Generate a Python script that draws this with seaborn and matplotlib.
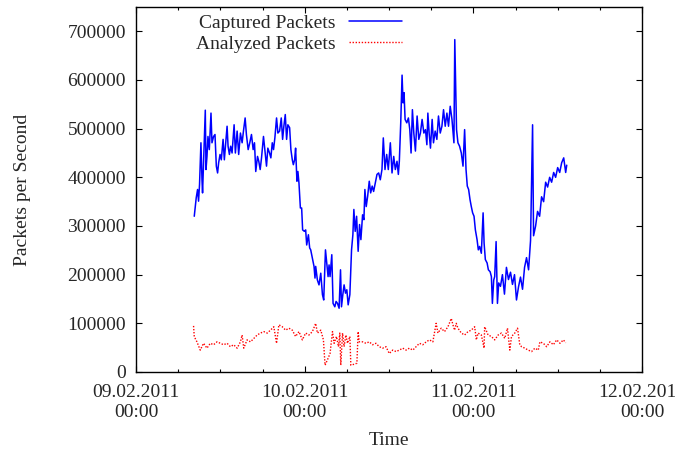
import numpy as np
import pandas as pd
import matplotlib
matplotlib.use("Agg")
import matplotlib.pyplot as plt
import matplotlib.dates as mdates
from matplotlib.ticker import MultipleLocator, FuncFormatter
import seaborn as sns

# ---------------- data (hours after 09.02.2011 00:00, packets per second) -------------
captured_hours = [
    8.29, 8.57, 8.76, 8.90, 9.04, 9.24, 9.39, 9.47, 9.61, 9.86, 9.96, 10.10, 10.24, 10.43,
    10.67, 10.81, 11.04, 11.24, 11.43, 11.61, 11.76, 11.96, 12.14, 12.39, 12.57, 12.76,
    12.96, 13.10, 13.29, 13.47, 13.67, 13.96, 14.14, 14.39, 14.61, 14.86, 15.10, 15.29,
    15.53, 15.71, 15.96, 16.19, 16.43, 16.67, 16.86, 17.04, 17.29, 17.47, 17.67, 17.86,
    18.14, 18.33, 18.57, 18.76, 19.00, 19.19, 19.39, 19.57, 19.76, 20.00, 20.19, 20.43,
    20.67, 20.86, 21.04, 21.24, 21.43, 21.61, 21.86, 22.04, 22.24, 22.39, 22.57, 22.71,
    22.90, 23.04, 23.19, 23.39, 23.57, 23.71, 23.96, 24.14, 24.29, 24.53, 24.71,
    24.86, 25.10, 25.33, 25.47, 25.57, 25.81, 26.04, 26.29, 26.53, 26.71, 26.96, 27.14,
    27.33, 27.47, 27.61, 27.86, 28.04, 28.29, 28.47, 28.67, 28.90, 29.10, 29.24, 29.43,
    29.61, 29.81, 30.00, 30.19, 30.43, 30.67, 30.86, 31.00, 31.19, 31.39, 31.61, 31.81,
    32.00, 32.24, 32.43, 32.57, 32.76, 32.96, 33.19, 33.39, 33.61, 33.81, 34.04, 34.29,
    34.53, 34.76, 35.00, 35.19, 35.43, 35.67, 35.90, 36.19, 36.43, 36.67, 36.90, 37.14,
    37.33, 37.47, 37.67, 37.86, 38.00, 38.14, 38.29, 38.53, 38.76, 38.96, 39.14, 39.33,
    39.53, 39.76, 40.00, 40.24, 40.47, 40.71, 40.96, 41.19, 41.39, 41.53, 41.71, 41.90,
    42.14, 42.33, 42.57, 42.81, 43.04, 43.29, 43.53, 43.76, 44.00, 44.24, 44.47, 44.71,
    44.96, 45.24, 45.36, 45.61, 45.81, 46.04, 46.29, 46.53, 46.76, 46.96, 47.14, 47.33,
    47.53, 47.71, 47.90, 48.10, 48.29, 48.53, 48.71, 48.90, 49.14, 49.39, 49.53, 49.71,
    49.96, 50.14, 50.39, 50.57, 50.71, 50.90, 51.04, 51.24, 51.43, 51.61, 51.86, 52.14,
    52.43, 52.71, 53.00, 53.29, 53.57, 53.86, 54.14, 54.43, 54.71, 55.00, 55.29, 55.57,
    55.86, 56.14, 56.43, 56.57, 56.86, 57.14, 57.43, 57.71, 58.00, 58.29, 58.57, 58.86,
    59.14, 59.43, 59.71, 60.00, 60.29, 60.57, 60.86, 61.14, 61.29,
]
captured_pps = [
    320000, 358000, 375000, 351000, 385000, 471000, 395000, 368000, 430000, 538000, 416000,
    443000, 484000, 457000, 532000, 471000, 484000, 488000, 423000, 409000, 430000, 447000,
    436000, 478000, 436000, 471000, 505000, 464000, 447000, 464000, 450000, 508000, 450000,
    495000, 447000, 491000, 471000, 495000, 522000, 488000, 457000, 471000, 488000, 457000,
    471000, 412000, 443000, 433000, 416000, 440000, 484000, 457000, 423000, 460000, 450000,
    440000, 471000, 457000, 481000, 522000, 491000, 495000, 522000, 478000, 505000, 529000,
    478000, 508000, 502000, 457000, 436000, 426000, 436000, 460000, 392000, 412000, 388000,
    337000, 337000, 292000, 289000, 292000, 261000, 282000, 255000,
    251000, 234000, 217000, 193000, 217000, 189000, 179000, 203000, 159000, 148000, 251000,
    224000, 196000, 220000, 196000, 241000, 141000, 134000, 145000, 141000, 131000, 210000,
    134000, 159000, 179000, 162000, 169000, 138000, 159000, 251000, 282000, 334000, 289000,
    320000, 248000, 303000, 272000, 323000, 313000, 375000, 340000, 361000, 392000, 368000,
    382000, 371000, 388000, 406000, 409000, 395000, 416000, 481000, 416000, 447000, 416000,
    471000, 409000, 443000, 416000, 433000, 406000, 433000, 512000, 610000, 553000, 574000,
    519000, 512000, 522000, 498000, 450000, 539000, 491000, 454000, 526000, 478000, 491000,
    519000, 491000, 498000, 467000, 532000, 491000, 460000, 519000, 471000, 495000, 478000,
    526000, 491000, 505000, 539000, 505000, 532000, 505000, 546000, 519000, 471000, 683000,
    498000, 471000, 464000, 450000, 423000, 498000, 416000, 382000, 375000, 354000, 340000,
    327000, 320000, 292000, 272000, 251000, 258000, 244000, 327000, 265000, 231000, 224000,
    210000, 206000, 196000, 141000, 189000, 196000, 268000, 141000, 183000, 176000, 200000,
    160000, 215000, 190000, 205000, 180000, 200000, 148000, 175000, 195000, 170000, 215000,
    235000, 210000, 270000, 508000, 280000, 300000, 330000, 320000, 360000, 350000, 390000,
    380000, 400000, 390000, 410000, 400000, 420000, 410000, 430000, 440000, 410000, 425000,
]

analyzed_hours = [
    8.19, 8.29, 8.67, 9.14, 9.61, 10.10, 10.57, 11.04, 11.53, 12.00, 12.47, 12.96, 13.43,
    13.90, 14.39, 14.86, 15.10, 15.33, 15.81, 16.29, 16.76, 17.24, 17.71, 18.19, 18.67,
    19.14, 19.61, 20.00, 20.33, 20.81, 21.29, 21.76, 22.24, 22.71, 23.19, 23.67, 24.14,
    24.61, 25.10, 25.57, 25.81, 26.29, 26.67, 26.90, 27.24, 27.61, 27.96, 28.19, 28.53,
    28.81, 29.00, 29.14, 29.39, 29.61, 29.86, 30.10, 30.43, 30.57, 31.04, 31.43, 31.61,
    31.76, 32.24, 32.71, 33.19, 33.67, 34.14, 34.61, 35.10, 35.57, 36.04, 36.53, 37.00,
    37.47, 37.96, 38.43, 38.90, 39.39, 39.86, 40.33, 40.81, 41.29, 41.76, 42.24, 42.71,
    42.96, 43.43, 43.90, 44.39, 44.86, 45.10, 45.33, 45.57, 45.81, 46.29, 46.76, 47.24,
    47.71, 48.19, 48.43, 48.67, 49.14, 49.53, 49.61, 50.10, 50.57, 51.04, 51.53, 52.00,
    52.47, 52.86, 53.19, 53.43, 53.90, 54.29, 54.61, 54.86, 55.33, 55.81, 56.29, 56.76,
    57.24, 57.47, 57.96, 58.43, 58.90, 59.39, 59.86, 60.33, 60.81, 61.14,
]
analyzed_pps = [
    94700, 72700, 62000, 45000, 59000, 49000, 59000, 56000, 62000, 59000, 56000, 59000,
    52000, 56000, 49000, 62000, 76000, 49000, 66000, 62000, 69000, 76000, 80000, 83000,
    80000, 86000, 93000, 59000, 97000, 93000, 86000, 90000, 86000, 73000, 83000, 66000,
    80000, 76000, 83000, 100000, 80000, 86000, 66000, 14000, 25000, 38000, 83000, 59000,
    73000, 52000, 80000, 14000, 80000, 52000, 76000, 59000, 73000, 14000, 16000, 18000,
    83000, 62000, 62000, 59000, 62000, 56000, 59000, 52000, 49000, 52000, 38000, 45000,
    42000, 45000, 49000, 45000, 49000, 45000, 52000, 59000, 56000, 62000, 66000, 62000,
    100000, 80000, 90000, 83000, 93000, 110000, 97000, 86000, 100000, 90000, 80000, 76000,
    83000, 86000, 93000, 66000, 80000, 76000, 49000, 93000, 76000, 73000, 66000, 76000,
    80000, 69000, 90000, 45000, 73000, 80000, 90000, 56000, 52000, 49000, 45000, 42000,
    49000, 45000, 62000, 59000, 52000, 62000, 56000, 66000, 59000, 66000, 60000,
]

series_labels = ["Captured Packets", "Analyzed Packets"]
start_time = pd.Timestamp("2011-02-09 00:00")
end_time = pd.Timestamp("2011-02-12 00:00")
y_ticks = [0, 100000, 200000, 300000, 400000, 500000, 600000, 700000]

# ---------------- plotting ----------------
sns.set_style("ticks")
plt.rcParams["font.family"] = ["Liberation Serif", "DejaVu Serif"]
plt.rcParams["font.size"] = 14

cap_df = pd.DataFrame({
    "time": start_time + pd.to_timedelta(captured_hours, unit="h"),
    "pps": captured_pps,
})
ana_df = pd.DataFrame({
    "time": start_time + pd.to_timedelta(analyzed_hours, unit="h"),
    "pps": analyzed_pps,
})

fig = plt.figure(figsize=(6.75, 4.51), dpi=100)
ax = fig.add_axes([136 / 675, 1 - 372 / 451, (642 - 136) / 675, (372 - 7) / 451])

sns.lineplot(data=cap_df, x="time", y="pps", ax=ax, color="#0000ff", linewidth=1.1,
             estimator=None, sort=False, label=series_labels[0])
sns.lineplot(data=ana_df, x="time", y="pps", ax=ax, color="#ff0000", linewidth=1.0,
             estimator=None, sort=False, label=series_labels[1],
             linestyle=(0, (1, 1.2)))

ax.set_xlim(start_time, end_time)
ax.set_ylim(0, 750000)
ax.set_yticks(y_ticks)
ax.yaxis.set_major_formatter(FuncFormatter(lambda v, p: f"{int(v)}"))

ax.xaxis.set_major_locator(mdates.DayLocator())
ax.xaxis.set_minor_locator(mdates.HourLocator(byhour=[6, 12, 18]))
ax.xaxis.set_major_formatter(mdates.DateFormatter("%d.%m.%Y\n%H:%M"))
for lbl in ax.get_xticklabels():
    lbl.set_multialignment("center")

ax.tick_params(axis="both", which="major", direction="in", length=4.5, width=0.8,
               top=True, right=True, labelsize=14, color="black")
ax.tick_params(axis="x", which="major", pad=8.6)
ax.tick_params(axis="y", which="major", pad=7.2)
ax.tick_params(axis="both", which="minor", direction="in", length=2.3, width=0.8,
               top=True, right=True, color="black")
for s in ax.spines.values():
    s.set_linewidth(1.0)
    s.set_color("black")
    s.set_visible(True)

ax.set_xlabel("Time", fontsize=14, labelpad=8)
ax.set_ylabel("Packets per Second", fontsize=14, labelpad=26)

ax.legend(loc="upper left", bbox_to_anchor=(0.111, 0.99), frameon=False, fontsize=14,
          markerfirst=False, handlelength=2.7, handletextpad=0.7, labelspacing=0.15,
          borderpad=0.2, borderaxespad=0.0)

fig.savefig("out.png", dpi=100)
